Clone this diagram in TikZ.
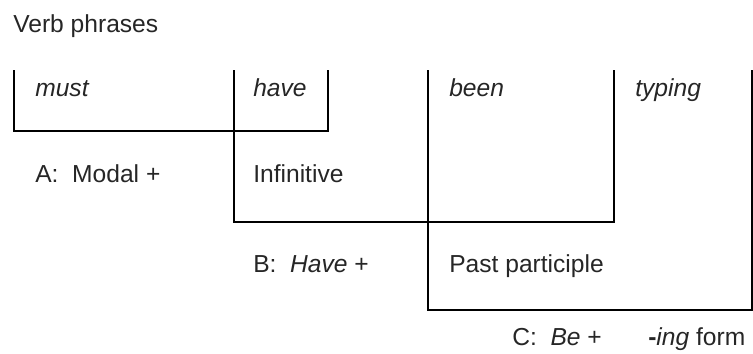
\documentclass[tikz,border=0pt]{standalone}
\usepackage{fontspec}
\setmainfont{Liberation Sans}
\begin{document}
\begin{tikzpicture}[
  every node/.style={font=\fontsize{17.5}{21}\selectfont, text=black!85, anchor=base west, inner sep=0pt},
  word/.style={font=\fontsize{17.5}{21}\selectfont\itshape},
  bracket/.style={draw, line width=1pt}
]
\useasboundingbox (0,0) rectangle (18.825,-8.825);

\node (title) at (0.325,-0.8) {Verb phrases};

\node[word] (must) at (0.875,-2.42) {must};
\node[word] (have) at (6.325,-2.42) {have};
\node[word] (been) at (11.225,-2.42) {been};
\node[word] (typing) at (15.875,-2.42) {typing};

\node (modal) at (0.875,-4.55) {A:\ \ Modal +};
\node (infinitive) at (6.325,-4.55) {Infinitive};

\node (haveplus) at (6.325,-6.8) {B:\ \ \textit{Have} +};
\node (participle) at (11.225,-6.8) {Past participle};

\node (beplus) at (12.8,-8.625) {C:\ \ \textit{Be} +};
\node (ingform) at (16.2,-8.625) {\textbf{-}\textit{ing} form};

\draw[bracket] (0.35,-1.75) |- (8.2,-3.275) -- (8.2,-1.75);
\draw[bracket] (5.85,-1.75) |- (15.35,-5.55) -- (15.35,-1.75);
\draw[bracket] (10.7,-1.75) |- (18.8,-7.75) -- (18.8,-1.75);
\end{tikzpicture}
\end{document}
